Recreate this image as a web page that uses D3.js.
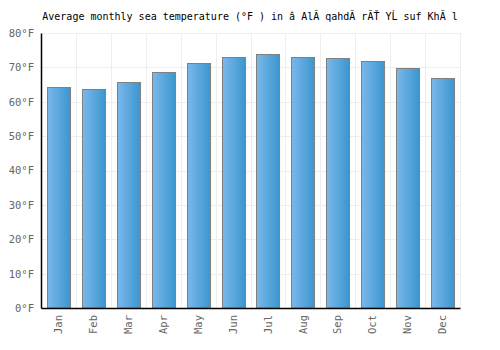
<!DOCTYPE html>
<html>
<head>
<meta charset="utf-8">
<script src="https://cdn.jsdelivr.net/npm/d3@7"></script>
<style>
  body { margin: 0; background: #fff; }
  text { font-family: "DejaVu Sans Mono", monospace; }
</style>
</head>
<body>
<div id="chart"></div>
<script>
// data
const months = ["Jan", "Feb", "Mar", "Apr", "May", "Jun", "Jul", "Aug", "Sep", "Oct", "Nov", "Dec"];
const seaTemp = [64.2, 63.8, 65.7, 68.6, 71.2, 73.0, 73.8, 73.0, 72.7, 71.8, 69.8, 66.9];
const yTicks = [0, 10, 20, 30, 40, 50, 60, 70, 80];
const title = "Average monthly sea temperature (°F ) in â  AlĂ qahdĂ rĂŤ YĹ suf KhĂ l";

const width = 500, height = 350;
const margin = {top: 33, right: 40, bottom: 42, left: 41};

const svg = d3.select("#chart").append("svg")
    .attr("width", width)
    .attr("height", height);

// gradient for bars
const grad = svg.append("defs").append("linearGradient")
    .attr("id", "barGrad")
    .attr("x1", "0%").attr("x2", "100%").attr("y1", "0%").attr("y2", "0%");
grad.append("stop").attr("offset", "0%").attr("stop-color", "#7ab8ea");
grad.append("stop").attr("offset", "100%").attr("stop-color", "#3b96cf");

const x = d3.scaleBand()
    .domain(months)
    .range([margin.left, width - margin.right])
    .paddingInner(0.34)
    .paddingOuter(0.17);

const y = d3.scaleLinear()
    .domain([0, 80])
    .range([height - margin.bottom, margin.top]);

// grid lines
const step = x.step();
const grid = svg.append("g").attr("stroke", "#eeeeee").attr("stroke-width", 1);
grid.selectAll(".hg")
    .data(yTicks)
    .enter()
    .append("line")
    .attr("x1", margin.left)
    .attr("x2", width - margin.right)
    .attr("y1", d => Math.round(y(d)) + 0.5)
    .attr("y2", d => Math.round(y(d)) + 0.5);
grid.selectAll(".vg")
    .data(d3.range(1, months.length + 1))
    .enter()
    .append("line")
    .attr("x1", i => Math.round(margin.left + i * step) + 0.5)
    .attr("x2", i => Math.round(margin.left + i * step) + 0.5)
    .attr("y1", margin.top)
    .attr("y2", height - margin.bottom);

// bars
svg.append("g").selectAll("rect")
    .data(seaTemp)
    .enter()
    .append("rect")
    .attr("x", (d, i) => Math.round(x(months[i])) + 0.5)
    .attr("y", d => Math.round(y(d)) + 0.5)
    .attr("width", x.bandwidth())
    .attr("height", d => y(0) - Math.round(y(d)) - 0.5)
    .attr("fill", "url(#barGrad)")
    .attr("stroke", "#808080")
    .attr("stroke-width", 1);

// axes
const yAxis = d3.axisLeft(y)
    .tickValues(yTicks)
    .tickSize(0)
    .tickPadding(7)
    .tickFormat(d => d + "°F");
const gy = svg.append("g")
    .attr("transform", `translate(${margin.left},0)`)
    .call(yAxis);
gy.select(".domain").attr("stroke", "#000").attr("stroke-width", 1.5);
gy.selectAll("text").attr("fill", "#666").attr("font-size", 10.5)
    .attr("font-family", "DejaVu Sans Mono, monospace");

const xAxis = d3.axisBottom(x).tickSize(0).tickPadding(6);
const gx = svg.append("g")
    .attr("transform", `translate(0,${height - margin.bottom})`)
    .call(xAxis);
gx.select(".domain").attr("stroke", "#000").attr("stroke-width", 1.5);
gx.selectAll("text")
    .attr("fill", "#666")
    .attr("font-size", 10.5)
    .attr("font-family", "DejaVu Sans Mono, monospace")
    .attr("transform", "rotate(-90)")
    .attr("text-anchor", "end")
    .attr("dy", "0.35em")
    .attr("x", -7)
    .attr("y", 0);

// title
svg.append("text")
    .attr("x", 250)
    .attr("y", 20)
    .attr("text-anchor", "middle")
    .attr("font-size", 10)
    .attr("fill", "#000")
    .text(title);
</script>
</body>
</html>
